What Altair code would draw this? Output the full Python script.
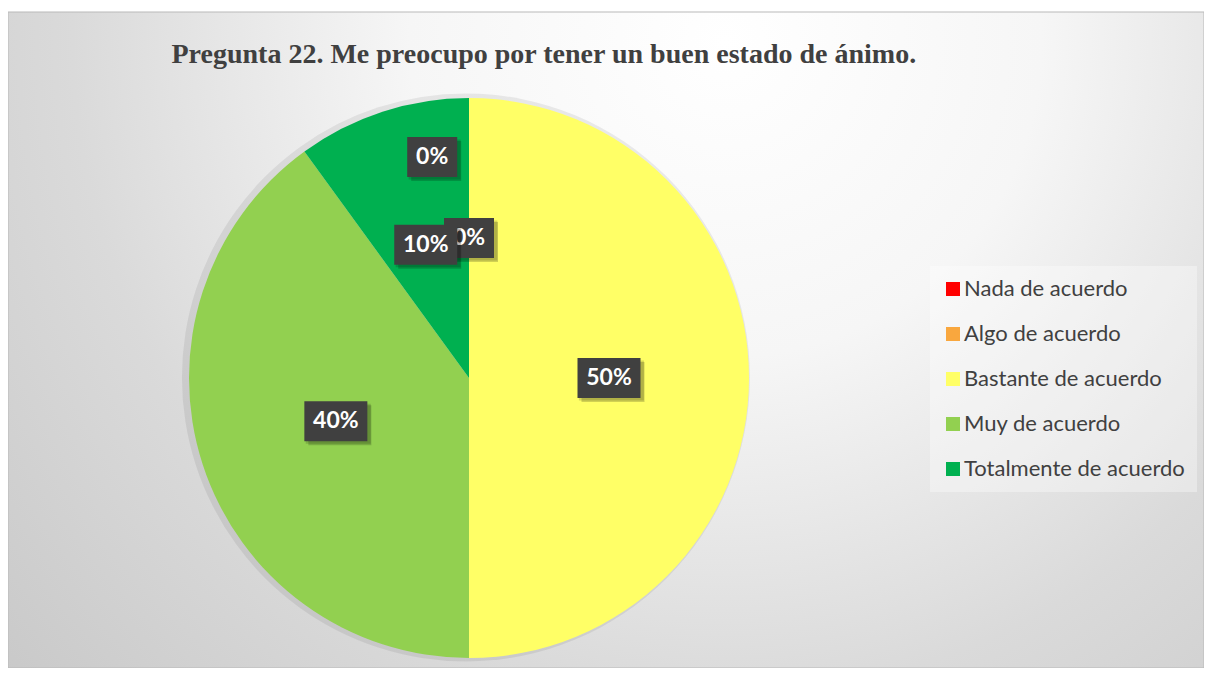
import altair as alt
import pandas as pd

# ---- data ----
categories = ["Nada de acuerdo", "Algo de acuerdo", "Bastante de acuerdo",
              "Muy de acuerdo", "Totalmente de acuerdo"]
values = [0, 0, 50, 40, 10]
colors = ["#FF0000", "#F9A73E", "#FFFF66", "#92D050", "#00B050"]
title_text = "Pregunta 22. Me preocupo por tener un buen estado de ánimo."

# ---- layout ----
W, H = 1196, 656
R = 280
CX, CY = 461, 366
xs = alt.Scale(domain=[-CX / R, (W - CX) / R], nice=False, zero=False)
ys = alt.Scale(domain=[-(H - CY) / R, CY / R], nice=False, zero=False)

df = pd.DataFrame({"cat": categories, "v": values, "ord": list(range(len(categories)))})
total = sum(values)


def with_pos(ch):
    return (ch.transform_joinaggregate(total="sum(v)")
            .transform_window(cum="sum(v)", sort=[alt.SortField("ord")], frame=[None, 0])
            .transform_calculate(iz="datum.v == 0 ? 1 : 0")
            .transform_window(zr="sum(iz)", sort=[alt.SortField("ord")], frame=[None, 0])
            .transform_calculate(mid="2*PI*(datum.cum - datum.v/2)/datum.total")
            .transform_calculate(moved="datum.v == 0 && datum.zr > 1")
            .transform_calculate(lr="datum.moved ? 0.8 : 0.5")
            .transform_calculate(la="datum.moved ? datum.mid - 0.165 : datum.mid")
            .transform_calculate(lx="datum.lr*sin(datum.la)")
            .transform_calculate(ly="datum.lr*cos(datum.la)")
            .transform_calculate(label="format(datum.v/datum.total, '.0%')"))


bg = alt.Chart(alt.Data(values=[{"a": 1}])).mark_rect(
    color=alt.Gradient(
        gradient="radial",
        stops=[alt.GradientStop(color="#ffffff", offset=0),
               alt.GradientStop(color="#f6f6f6", offset=0.3),
               alt.GradientStop(color="#dadada", offset=0.62),
               alt.GradientStop(color="#c4c4c4", offset=1)],
        x1=0.6, y1=0.25, r1=0, x2=0.6, y2=0.25, r2=0.88),
    stroke="#b9b9b9", strokeWidth=1,
).encode(x=alt.value(0), x2=alt.value(W), y=alt.value(0), y2=alt.value(H))

# soft shadow around the pie (mostly to the left)
halo = alt.Chart(df).mark_arc(outerRadius=R + 4, color="#000000", opacity=0.07).encode(
    theta=alt.Theta("v:Q", stack=True),
    order=alt.Order("ord:Q"),
    x=alt.X("cx:Q", scale=xs, axis=None),
    y=alt.Y("cy:Q", scale=ys, axis=None),
).transform_calculate(cx="-0.011", cy="0.002")

arcs = alt.Chart(df).mark_arc(outerRadius=R).encode(
    theta=alt.Theta("v:Q", stack=True),
    color=alt.Color("cat:N", scale=alt.Scale(domain=categories, range=colors),
                    legend=alt.Legend(title=None, orient="none", legendX=922, legendY=254,
                                      symbolType="square", symbolSize=196,
                                      symbolStrokeWidth=0,
                                      labelFont="Lato", labelFontSize=22,
                                      labelColor="#404040", rowPadding=23,
                                      labelOffset=0, padding=12, labelLimit=400,
                                      fillColor="rgba(255,255,255,0.35)")),
    order=alt.Order("ord:Q"),
    x=alt.X("cx:Q", scale=xs, axis=None),
    y=alt.Y("cy:Q", scale=ys, axis=None),
).transform_calculate(cx="0", cy="0")


def box_path(hw, dx=0.0, dy=0.0):
    return f"M{-hw+dx},{-1+dy}H{hw+dx}V{1+dy}H{-hw+dx}Z"


label_layers = []
for i, c in enumerate(categories):
    lab = f"{round(values[i] / total * 100)}%"
    hw = 1.25 if len(lab) <= 2 else 1.575
    base = with_pos(alt.Chart(df)).transform_filter(alt.datum.cat == c)
    enc = dict(x=alt.X("lx:Q", scale=xs, axis=None), y=alt.Y("ly:Q", scale=ys, axis=None))
    sh1 = base.mark_point(shape=box_path(hw, 0.2, 0.2), size=1600, filled=True,
                          color="#000000", opacity=0.18, strokeWidth=0).encode(**enc)
    sh2 = base.mark_point(shape=box_path(hw + 0.05, 0.12, 0.12), size=1600, filled=True,
                          color="#000000", opacity=0.15, strokeWidth=0).encode(**enc)
    box = base.mark_point(shape=box_path(hw), size=1600, filled=True,
                          color="#404040", opacity=1, strokeWidth=0).encode(**enc)
    txt = base.mark_text(font="Lato", fontWeight="bold", fontSize=23, color="#ffffff",
                         align="center", baseline="middle").encode(text="label:N", **enc)
    label_layers += [sh1, sh2, box, txt]

chart = alt.layer(bg, halo, arcs, *label_layers).properties(
    width=W, height=H,
    autosize=alt.AutoSizeParams(type="none"),
    padding={"left": 0, "top": 4, "right": 0, "bottom": 0},
    title=alt.TitleParams(title_text, anchor="start", dx=164, offset=-79,
                          baseline="alphabetic", font="Liberation Serif",
                          fontSize=28, fontWeight="bold", color="#404040"),
).configure_view(stroke=None)

chart.save("out.html", embed_options={"renderer": "svg", "actions": False})
